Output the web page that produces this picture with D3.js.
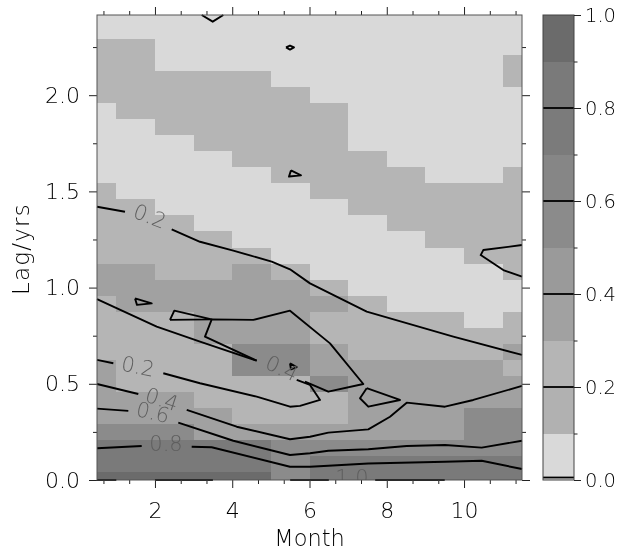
<!DOCTYPE html>
<html><head><meta charset="utf-8">
<script src="https://cdn.jsdelivr.net/npm/d3@7"></script>
<style>
body{margin:0;background:#fff}
svg{will-change:transform}
text{font-family:"DejaVu Sans",sans-serif;font-weight:200}
</style></head>
<body><svg id="chart" width="619" height="553"></svg>
<script>
// ---------- data ----------
const months = [0.5,1.5,2.5,3.5,4.5,5.5,6.5,7.5,8.5,9.5,10.5,11.5];
const lagMonths = [0,1,2,3,4,5,6,7,8,9,10,11,12,13,14,15,16,17,18,19,20,21,22,23,24,25,26,27,28,29];
const levelEdges = [0,0.1,0.2,0.3,0.4,0.5,0.6,0.7,0.8,0.9,1.0];
const levelColors = ["#d9d9d9","#b1b1b1","#b5b5b5","#a1a1a1","#9a9a9a","#8b8b8b","#868686","#7b7b7b","#7a7a7a","#6b6b6b"];
const xTickLabels = [2,4,6,8,10];
const yTickLabels = [0.0,0.5,1.0,1.5,2.0];
const cbTickLabels = [0.0,0.2,0.4,0.6,0.8,1.0];
const cbLines = [0.0,0.2,0.4,0.6,0.8];

// fill values, one row per lag (months), bottom (lag 0) first, columns = months
const fillRows = [
 [0.95,0.95,0.95,0.95,0.95,0.55,0.85,0.85,0.85,0.85,0.85,0.85],
 [0.85,0.85,0.85,0.85,0.85,0.55,0.85,0.85,0.85,0.85,0.85,0.85],
 [0.85,0.85,0.85,0.85,0.85,0.55,0.55,0.55,0.55,0.55,0.55,0.55],
 [0.55,0.55,0.55,0.35,0.35,0.35,0.35,0.35,0.35,0.35,0.55,0.55],
 [0.35,0.35,0.35,0.35,0.25,0.25,0.25,0.35,0.35,0.35,0.55,0.55],
 [0.35,0.35,0.35,0.25,0.25,0.25,0.25,0.35,0.35,0.35,0.35,0.35],
 [0.35,0.25,0.25,0.25,0.25,0.25,0.55,0.35,0.35,0.35,0.35,0.35],
 [0.35,0.25,0.25,0.25,0.55,0.55,0.35,0.35,0.35,0.35,0.35,0.25],
 [0.25,0.25,0.25,0.25,0.55,0.55,0.35,0.25,0.25,0.25,0.25,0.35],
 [0.25,0.25,0.25,0.35,0.35,0.35,0.25,0.25,0.25,0.25,0.25,0.25],
 [0.25,0.25,0.25,0.35,0.35,0.35,0.25,0.25,0.25,0.25,0.05,0.25],
 [0.25,0.35,0.35,0.35,0.35,0.35,0.35,0.25,0.05,0.05,0.05,0.05],
 [0.35,0.35,0.35,0.35,0.35,0.35,0.25,0.05,0.05,0.05,0.05,0.05],
 [0.35,0.35,0.25,0.25,0.35,0.25,0.05,0.05,0.05,0.05,0.05,0.25],
 [0.25,0.25,0.25,0.25,0.25,0.05,0.05,0.05,0.05,0.05,0.25,0.25],
 [0.25,0.25,0.25,0.25,0.05,0.05,0.05,0.05,0.05,0.25,0.25,0.25],
 [0.25,0.25,0.25,0.05,0.05,0.05,0.05,0.05,0.25,0.25,0.25,0.25],
 [0.25,0.25,0.05,0.05,0.05,0.05,0.05,0.25,0.25,0.25,0.25,0.25],
 [0.25,0.05,0.05,0.05,0.05,0.05,0.25,0.25,0.25,0.25,0.25,0.25],
 [0.05,0.05,0.05,0.05,0.05,0.25,0.25,0.25,0.25,0.05,0.05,0.25],
 [0.05,0.05,0.05,0.05,0.25,0.25,0.25,0.25,0.05,0.05,0.05,0.05],
 [0.05,0.05,0.05,0.25,0.25,0.25,0.25,0.05,0.05,0.05,0.05,0.05],
 [0.05,0.05,0.25,0.25,0.25,0.25,0.25,0.05,0.05,0.05,0.05,0.05],
 [0.05,0.25,0.25,0.25,0.25,0.25,0.25,0.05,0.05,0.05,0.05,0.05],
 [0.25,0.25,0.25,0.25,0.25,0.25,0.05,0.05,0.05,0.05,0.05,0.05],
 [0.25,0.25,0.25,0.25,0.25,0.05,0.05,0.05,0.05,0.05,0.05,0.25],
 [0.25,0.25,0.05,0.05,0.05,0.05,0.05,0.05,0.05,0.05,0.05,0.25],
 [0.25,0.25,0.05,0.05,0.05,0.05,0.05,0.05,0.05,0.05,0.05,0.05],
 [0.05,0.05,0.05,0.05,0.05,0.05,0.05,0.05,0.05,0.05,0.05,0.05],
 [0.05,0.05,0.05,0.05,0.05,0.05,0.05,0.05,0.05,0.05,0.05,0.05]
];

// contour lines, [month, lag (yrs)]
const contour02Upper = [
 [[0.5,1.420],[1.225,1.394]],
 [[2.433,1.303],[3.166,1.238],[4.028,1.192],[5.022,1.135],[5.495,1.095],[6.013,1.022],[7.481,0.875],[9.722,0.745],[11.5,0.650]]
];
const contour02Right = [[[11.5,1.221],[10.498,1.195],[10.431,1.169],[11.016,1.091],[11.5,1.057]]];
const contour02Tongue = [
 [[0.5,0.940],[2.045,0.797],[3.166,0.719],[4.633,0.620]],
 [[5.669,0.520],[6.013,0.494],[6.272,0.416],[5.754,0.385],[5.495,0.381],[4.633,0.433],[3.166,0.503],[2.216,0.555]],
 [[0.922,0.607],[0.5,0.624]]
];
const contour04Loop = [[[4.633,0.620],[3.295,0.745],[3.469,0.835],[4.545,0.832],[5.495,0.880],[6.531,0.710],[7.393,0.499],[6.487,0.459],[5.883,0.511]]];
const contour04Lower = [
 [[0.5,0.499],[1.569,0.447]],
 [[2.822,0.364],[4.116,0.277],[5.495,0.212],[6.013,0.225],[6.487,0.246],[7.522,0.263],[8.084,0.329],[8.516,0.402],[9.507,0.381],[10.24,0.416],[11.5,0.489]]
];
const contour06 = [
 [[0.5,0.371],[1.31,0.359]],
 [[2.604,0.298],[4.028,0.204],[5.495,0.130],[6.013,0.139],[6.487,0.152],[7.522,0.160],[8.516,0.177],[9.507,0.182],[10.457,0.168],[11.5,0.204]]
];
const contour08 = [
 [[0.5,0.165],[1.657,0.177]],
 [[2.951,0.173],[3.469,0.170],[5.495,0.069],[6.013,0.069],[6.487,0.074],[7.522,0.086],[9.507,0.095],[10.457,0.100],[11.5,0.057]]
];
const contour10 = [
 [[0.5,0.0],[1.0,0.0]],[[2.0,0.0],[3.5,0.0]],[[5.5,0.0],[6.5,0.0]],[[7.7,0.0],[9.5,0.0]]
];
const smallLoops = [
 [[3.21,2.417],[3.495,2.382],[3.769,2.417]],
 [[5.392,2.248],[5.495,2.258],[5.599,2.248],[5.495,2.237],[5.392,2.248]],
 [[5.521,1.609],[5.78,1.583],[5.469,1.577],[5.521,1.609]],
 [[1.484,0.944],[1.916,0.918],[1.535,0.910],[1.484,0.944]],
 [[2.389,0.832],[2.501,0.880],[3.469,0.835],[2.389,0.832]],
 [[5.495,0.606],[5.669,0.587],[5.521,0.575],[5.495,0.606]],
 [[7.480,0.477],[8.342,0.416],[7.522,0.381],[7.307,0.425],[7.480,0.477]]
];
// contour labels: [month, lag, angle(deg), text]
const contourLabels = [
 [1.87,1.372,21,"0.2"],
 [1.561,0.592,11,"0.2"],
 [2.182,0.421,18,"0.4"],
 [1.949,0.353,13,"0.6"],
 [2.286,0.192,0,"0.8"],
 [5.288,0.582,25,"0.4"],
 [7.1,0.012,0,"1.0"]
];

// ---------- drawing ----------
const svg = d3.select("#chart");
const L = 97, R = 522, T = 15, B = 480;
const x = d3.scaleLinear().domain([0.5, 11.5]).range([L, R]);
const y = d3.scaleLinear().domain([0, 29/12]).range([B, T]);
const color = d3.scaleThreshold().domain(levelEdges.slice(1, -1)).range(levelColors);

const cells = [];
lagMonths.forEach((lm, k) => {
  months.forEach((m, i) => {
    cells.push({
      x0: Math.max(0.5, m - 0.5), x1: Math.min(11.5, m + 0.5),
      y0: Math.max(0, (lm - 0.5) / 12), y1: Math.min(29/12, (lm + 0.5) / 12),
      v: fillRows[k][i]
    });
  });
});
svg.append("g").selectAll("rect").data(cells).join("rect")
  .attr("x", d => x(d.x0)).attr("width", d => x(d.x1) - x(d.x0))
  .attr("y", d => y(d.y1)).attr("height", d => y(d.y0) - y(d.y1))
  .attr("fill", d => color(d.v)).attr("shape-rendering", "crispEdges");

svg.append("clipPath").attr("id", "plotclip").append("rect")
  .attr("x", L).attr("y", T - 1).attr("width", R - L).attr("height", B - T + 1);

const line = d3.line().x(d => x(d[0])).y(d => y(d[1]));
const allLines = [].concat(contour02Upper, contour02Right, contour02Tongue, contour04Loop,
  contour04Lower, contour06, contour08, contour10, smallLoops);
svg.append("g").selectAll("path").data(allLines).join("path")
  .attr("d", line).attr("fill", "none").attr("stroke", "#000")
  .attr("stroke-width", 1.9).attr("stroke-linejoin", "round").attr("stroke-linecap", "butt");

svg.append("g").attr("clip-path", "url(#plotclip)")
  .selectAll("text").data(contourLabels).join("text")
  .attr("transform", d => `translate(${x(d[0])},${y(d[1])}) rotate(${d[2]})`)
  .attr("text-anchor", "middle").attr("dy", "0.36em")
  .attr("font-size", 21).attr("fill", "#5e5e5e")
  .text(d => d[3]);

// axes
const fs = 22;
const xMinorFinal = d3.range(1, 18).map(i => i * 2/3)
  .filter(v => v > 0.5 && v < 11.5 && Math.abs(v/2 - Math.round(v/2)) > 0.01);
const yMinor = [0.25,0.75,1.25,1.75,2.25];
const axes = [
  svg.append("g").attr("transform", `translate(0,${B})`)
    .call(d3.axisBottom(x).tickValues(xTickLabels).tickSize(8).tickSizeOuter(0).tickPadding(14).tickFormat(d3.format("d"))),
  svg.append("g").attr("transform", `translate(0,${B})`)
    .call(d3.axisBottom(x).tickValues(xMinorFinal).tickSize(4).tickSizeOuter(0).tickFormat("")),
  svg.append("g").attr("transform", `translate(0,${T})`)
    .call(d3.axisTop(x).tickValues(xTickLabels).tickSize(8).tickSizeOuter(0).tickFormat("")),
  svg.append("g").attr("transform", `translate(0,${T})`)
    .call(d3.axisTop(x).tickValues(xMinorFinal).tickSize(4).tickSizeOuter(0).tickFormat("")),
  svg.append("g").attr("transform", `translate(${L},0)`)
    .call(d3.axisLeft(y).tickValues(yTickLabels).tickSize(8).tickSizeOuter(0).tickPadding(9).tickFormat(d3.format(".1f"))),
  svg.append("g").attr("transform", `translate(${L},0)`)
    .call(d3.axisLeft(y).tickValues(yMinor).tickSize(4).tickSizeOuter(0).tickFormat("")),
  svg.append("g").attr("transform", `translate(${R},0)`)
    .call(d3.axisRight(y).tickValues(yTickLabels).tickSize(8).tickSizeOuter(0).tickFormat("")),
  svg.append("g").attr("transform", `translate(${R},0)`)
    .call(d3.axisRight(y).tickValues(yMinor).tickSize(4).tickSizeOuter(0).tickFormat(""))
];
svg.append("rect").attr("x", L).attr("y", T).attr("width", R - L).attr("height", B - T)
  .attr("fill", "none").attr("stroke", "#555").attr("stroke-width", 1);

svg.append("text").attr("x", x(6)).attr("y", 546).attr("text-anchor", "middle")
  .attr("font-size", 22.5).attr("fill", "#000").text("Month");
svg.append("text").attr("transform", `translate(29,${y(1.2)}) rotate(-90)`).attr("text-anchor", "middle")
  .attr("font-size", 23).attr("letter-spacing", 1.2).attr("fill", "#000").text("Lag/yrs");

// colorbar
const CL = 543, CR = 574;
const cy = d3.scaleLinear().domain([0, 1]).range([B, T]);
svg.append("g").selectAll("rect").data(levelColors).join("rect")
  .attr("x", CL).attr("width", CR - CL)
  .attr("y", (d, i) => cy(levelEdges[i + 1])).attr("height", (d, i) => cy(levelEdges[i]) - cy(levelEdges[i + 1]))
  .attr("fill", d => d).attr("shape-rendering", "crispEdges");
svg.append("g").selectAll("line").data(cbLines).join("line")
  .attr("x1", CL).attr("x2", CR)
  .attr("y1", d => d === 0 ? cy(d) - 2.5 : cy(d)).attr("y2", d => d === 0 ? cy(d) - 2.5 : cy(d))
  .attr("stroke", "#000").attr("stroke-width", 1.8);
svg.append("rect").attr("x", CL).attr("y", T).attr("width", CR - CL).attr("height", B - T)
  .attr("fill", "none").attr("stroke", "#444").attr("stroke-width", 1);
const cbAxes = [
  svg.append("g").attr("transform", `translate(${CR},0)`)
    .call(d3.axisRight(cy).tickValues(cbTickLabels).tickSize(7).tickSizeOuter(0).tickPadding(4).tickFormat(d3.format(".1f"))),
  svg.append("g").attr("transform", `translate(${CR},0)`)
    .call(d3.axisRight(cy).tickValues([0.1,0.3,0.5,0.7,0.9]).tickSize(3.5).tickSizeOuter(0).tickFormat(""))
];
axes.concat(cbAxes).forEach(g => {
  g.select(".domain").remove();
  g.selectAll("line").attr("stroke", "#222");
  g.selectAll("text").attr("fill", "#000")
    .attr("font-family", "DejaVu Sans").attr("font-weight", 200);
});
axes.forEach(g => g.selectAll("text").attr("font-size", fs));
cbAxes.forEach(g => g.selectAll("text").attr("font-size", 19.5));
</script></body></html>
